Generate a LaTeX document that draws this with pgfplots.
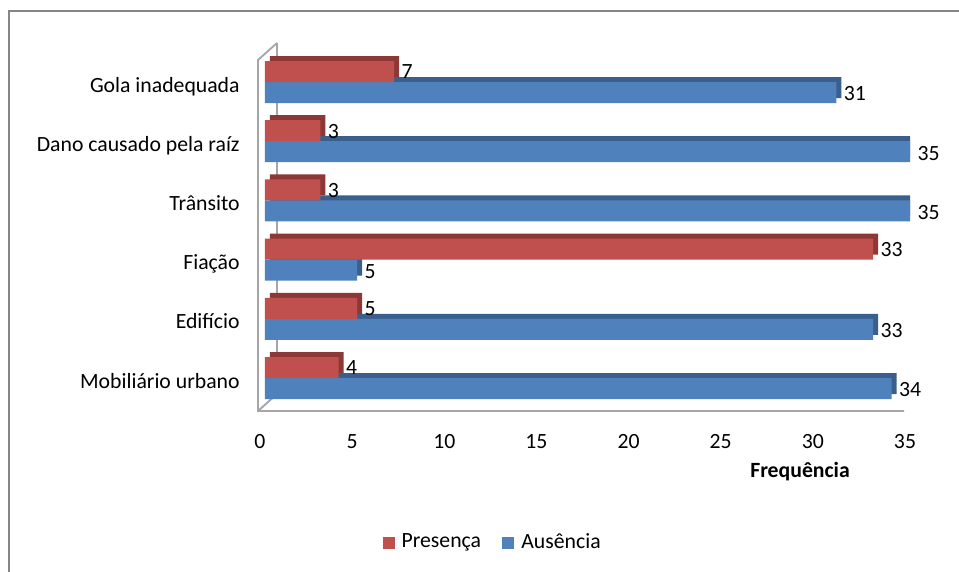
\documentclass[border=0pt]{standalone}
\usepackage{fontspec}
\setmainfont{Carlito}
\usepackage{pgfplots}
\usepackage{pgfplotstable}
\pgfplotsset{compat=1.18}
\usetikzlibrary{backgrounds}

\definecolor{presfront}{HTML}{C0504D}
\definecolor{presside}{HTML}{8C3836}
\definecolor{ausfront}{HTML}{4F81BD}
\definecolor{ausside}{HTML}{3A5F8C}
\definecolor{wallgray}{HTML}{A6A6A6}
\definecolor{framegray}{HTML}{868686}

% Frequência por categoria (posições 0.5 = Mobiliário urbano ... 5.5 = Gola inadequada)
\pgfplotstableread{
cat presenca ausencia
0.5 4 34
1.5 5 33
2.5 33 5
3.5 3 35
4.5 3 35
5.5 7 31
}\freq

\begin{document}
\begin{tikzpicture}
\fontsize{16.3}{19.5}\selectfont
\begin{axis}[
  scale only axis, width=483.75pt, height=266.4pt,
  xmin=0, xmax=35, ymin=0, ymax=6,
  axis line style={draw=none},
  major tick length=0pt,
  xtick={0,5,...,35},
  ytick={0.5,1.5,2.5,3.5,4.5,5.5},
  yticklabels={Mobiliário urbano, Edifício, Fiação, Trânsito, Dano causado pela raíz, Gola inadequada},
  /pgf/number format/assume math mode=true,
  tick label style={font=\fontsize{16.3}{19.5}\selectfont, text=black},
  xticklabel style={anchor=base, xshift=-3.75pt, yshift=-30.3pt},
  yticklabel style={anchor=base east, xshift=-13.4pt, yshift=-7.5pt},
  xlabel={\textbf{Frequência}},
  xlabel style={at={(axis description cs:0.8295,-0.198)}, anchor=base, font=\fontsize{16.3}{19.5}\selectfont},
  legend columns=2,
  legend style={at={(axis description cs:0.3535,-0.380)}, anchor=center, draw=none,
    font=\fontsize{16.3}{19.5}\selectfont,
    /tikz/every even column/.append style={column sep=14pt}},
  legend image code/.code={\fill[#1] (0pt,-4.1pt) rectangle (8.25pt,4.1pt);
    \path[draw=none, fill=none] (0pt,0pt) -- (12pt,0pt);},
  nodes near coords style={anchor=west, font=\fontsize{16.3}{19.5}\selectfont, text=black},
]
\addlegendimage{presfront}
\addlegendentry{Presença}
\addlegendimage{ausfront}
\addlegendentry{Ausência}

\coordinate (O) at (axis cs:0,0);

% Ausência: depth face, then front face
\addplot[xbar, bar width=15.75pt, bar shift=-4.125pt, xshift=3.75pt,
  fill=ausside, draw=none, forget plot] table[x=ausencia, y=cat] {\freq};
\addplot[xbar, bar width=15.75pt, bar shift=-7.875pt,
  fill=ausfront, draw=none, forget plot,
  nodes near coords, every node near coord/.append style={yshift=-9pt}]
  table[x=ausencia, y=cat] {\freq};
% Presença: depth face, then front face
\addplot[xbar, bar width=15.75pt, bar shift=11.625pt, xshift=3.75pt,
  fill=presside, draw=none, forget plot] table[x=presenca, y=cat] {\freq};
\addplot[xbar, bar width=15.75pt, bar shift=7.875pt,
  fill=presfront, draw=none, forget plot,
  nodes near coords, every node near coord/.append style={yshift=7.5pt}]
  table[x=presenca, y=cat] {\freq};
\end{axis}
% page coordinates: 1 unit = 0.75pt, y measured downward as negative values
\begin{scope}[shift={(O)}, xshift=-198.75pt, yshift=305.7pt, x=0.75pt, y=0.75pt]
  \begin{scope}[on background layer]
    % back wall, side wall and floor
    \draw[wallgray, line width=1.4pt] (277,-43) -- (277,-394);
    \draw[wallgray, line width=1.4pt] (277,-43) -- (258,-60) -- (258,-411) -- (904,-411);
    \draw[wallgray, line width=1.4pt] (258,-411) -- (277,-394);
  \end{scope}
  % chart frame
  \draw[framegray, line width=1.6pt] (9,-600) -- (9,-11) -- (990,-11);
  \pgfresetboundingbox
  \path[use as bounding box] (0,0) rectangle (959,-571);
\end{scope}
\end{tikzpicture}
\end{document}
